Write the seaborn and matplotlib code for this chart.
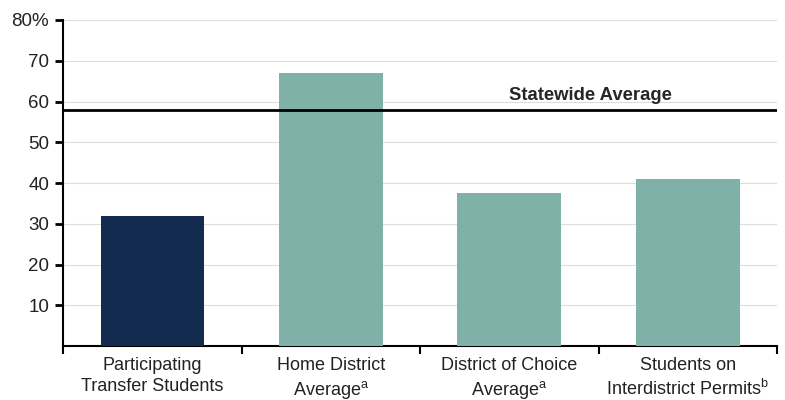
import seaborn as sns
import matplotlib.pyplot as plt
import pandas as pd

categories = ["Participating\nTransfer Students",
              "Home District\nAverage$^{\\mathrm{a}}$",
              "District of Choice\nAverage$^{\\mathrm{a}}$",
              "Students on\nInterdistrict Permits$^{\\mathrm{b}}$"]
values = [32, 67, 37.5, 41]
colors = ["#132b4f", "#80b1a9", "#80b1a9", "#80b1a9"]
statewide = 58
yticks = [10, 20, 30, 40, 50, 60, 70, 80]
yticklabels = ["10", "20", "30", "40", "50", "60", "70", "80%"]

df = pd.DataFrame({"cat": categories, "val": values})

sns.set_theme(style="white")
plt.rcParams["font.family"] = ["Liberation Sans", "DejaVu Sans"]
plt.rcParams["mathtext.fontset"] = "custom"
plt.rcParams["mathtext.rm"] = "Liberation Sans"

fig = plt.figure(figsize=(7.85, 4), dpi=100)
ax = fig.add_axes([0.0803, 0.135, 0.9095, 0.815])

sns.barplot(data=df, x="cat", y="val", hue="cat", palette=colors, width=0.58,
            legend=False, ax=ax, zorder=3, saturation=1, linewidth=0)

ax.set_ylim(0, 80)
ax.set_xlim(-0.5, 3.5)
ax.set_yticks(yticks)
ax.set_yticklabels(yticklabels, fontsize=13.5, color="#222222")
ax.yaxis.grid(True, color="#dddddd", linewidth=0.8, zorder=0)

ax.set_xticks([0, 1, 2, 3])
ax.set_xticklabels(categories, fontsize=13, color="#222222", linespacing=1.3)
ax.tick_params(axis="x", which="major", length=0, pad=8)
ax.set_xticks([-0.5, 0.5, 1.5, 2.5, 3.5], minor=True)
ax.tick_params(axis="x", which="minor", bottom=True, length=6, width=1.5,
               color="black", direction="out")
ax.tick_params(axis="y", length=6, width=2, color="black", direction="out", left=True, pad=4)

for s in ["top", "right"]:
    ax.spines[s].set_visible(False)
for s in ["left", "bottom"]:
    ax.spines[s].set_color("black")
    ax.spines[s].set_linewidth(1.5)

ax.axhline(statewide, color="black", linewidth=2, zorder=4)
ax.text(2.0, statewide + 1.3, "Statewide Average", fontsize=13.3, fontweight="bold",
        ha="left", va="bottom")

ax.set_xlabel("")
ax.set_ylabel("")

plt.savefig("out.png", dpi=100)
